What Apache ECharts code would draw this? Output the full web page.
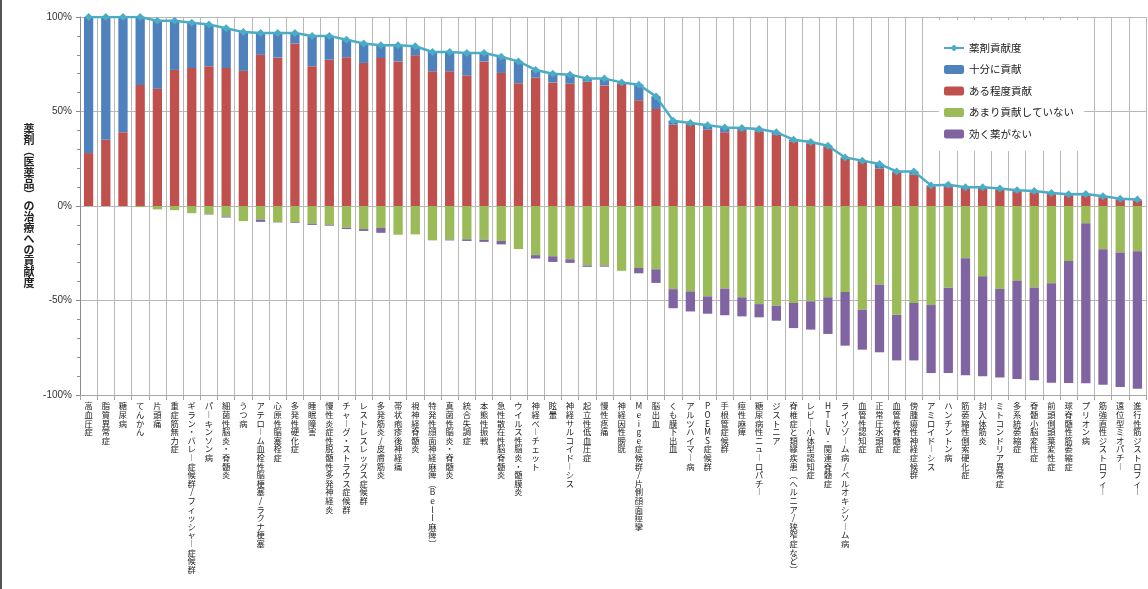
<!DOCTYPE html>
<html>
<head>
<meta charset="utf-8">
<title>薬剤の治療への貢献度</title>
<script src="https://cdn.jsdelivr.net/npm/echarts@6/dist/echarts.min.js"></script>
<style>
  html, body { margin: 0; padding: 0; background: #fff; }
  #chart { width: 1148px; height: 589px; }
</style>
</head>
<body>
<div id="chart"></div>
<script>
const categories = [
  '高血圧症', '脂質異常症', '糖尿病', 'てんかん', '片頭痛', '重症筋無力症',
  'ギラン・バレー症候群/フィッシャー症候群', 'パーキンソン病', '細菌性脳炎・脊髄炎', 'うつ病',
  'アテローム血栓性脳梗塞/ラクナ梗塞', '心原性脳塞栓症', '多発性硬化症', '睡眠障害',
  '慢性炎症性脱髄性多発神経炎', 'チャーグ・ストラウス症候群', 'レストレスレッグス症候群',
  '多発筋炎/皮膚筋炎', '帯状疱疹後神経痛', '視神経脊髄炎', '特発性顔面神経麻痺(Bell麻痺)',
  '真菌性脳炎・脊髄炎', '統合失調症', '本態性振戦', '急性散在性脳脊髄炎', 'ウイルス性脳炎・髄膜炎',
  '神経ベーチェット', '眩暈', '神経サルコイドーシス', '起立性低血圧症', '慢性疼痛', '神経因性膀胱',
  'Meige症候群/片側顔面痙攣', '脳出血', 'くも膜下出血', 'アルツハイマー病', 'POEMS症候群',
  '手根管症候群', '痙性麻痺', '糖尿病性ニューロパチー', 'ジストニア',
  '脊椎症と類縁疾患(ヘルニア/狭窄症など)', 'レビー小体型認知症', 'HTLV-関連脊髄症',
  'ライソゾーム病/ペルオキシソーム病', '血管性認知症', '正常圧水頭症', '血管性脊髄症',
  '傍腫瘍性神経症候群', 'アミロイドーシス', 'ハンチントン病', '筋萎縮性側索硬化症', '封入体筋炎',
  'ミトコンドリア異常症', '多系統萎縮症', '脊髄小脳変性症', '前頭側頭葉変性症', '球脊髄性筋萎縮症',
  'プリオン病', '筋強直性ジストロフィー', '遠位型ミオパチー', '進行性筋ジストロフィー'
]

// 薬剤貢献度 (line)
const contribution = [
  100, 100, 100, 100, 98, 98, 97, 96, 94, 92, 91.5, 91.5, 91.5, 90, 90, 88, 86, 85, 85, 84.5,
  81.5, 81.5, 81, 81, 79, 76.5, 72, 70, 69.5, 67.4, 67.4, 65.4, 64.2, 58, 45.1, 43.9, 42.7, 41.6,
  41.3, 40.7, 39, 35.1, 33.9, 31.9, 25.7, 24, 22.2, 18.3, 18.3, 10.9, 11.3, 9.9, 9.9, 9.2, 8.3,
  7.9, 6.9, 6.2, 6.3, 5.1, 3.9, 3.4
]
// 十分に貢献
const fullyHelps = [
  72, 65, 61, 36, 36, 26, 24, 22, 21, 20.5, 11.5, 13, 5.5, 16, 12.6, 9.3, 10.3, 6.7, 8.5, 4.8,
  10.2, 10.2, 12, 4.5, 8.6, 11.5, 4, 4.6, 4.8, 1.6, 3.6, 0.7, 8.3, 6.7, 2.1, 1, 2.3, 2.6,
  1.6, 1.4, 1.3, 0.9, 0.9, 0.3, 0.8, 0.7, 2.4, 0.8, 1.7, 0.5, 1.3, 0.9, 0.9, 0.6, 0.5,
  0.7, 0.6, 0.7, 0.8, 0.5, 0.5, 0.6
]
// ある程度貢献
const somewhatHelps = [
  28, 35, 39, 64, 62, 72, 73, 74, 73, 71.5, 80, 78.5, 86, 74, 77.4, 78.7, 75.7, 78.3, 76.5, 79.7,
  71.3, 71.3, 69, 76.5, 70.4, 65, 68, 65.4, 64.7, 65.8, 63.8, 64.7, 55.9, 51.3, 43, 42.9, 40.4, 39,
  39.7, 39.3, 37.7, 34.2, 33, 31.6, 24.9, 23.3, 19.8, 17.5, 16.6, 10.4, 10, 9, 9, 8.6, 7.8,
  7.2, 6.3, 5.5, 5.5, 4.6, 3.4, 2.8
]
// あまり貢献していない
const littleHelp = [
  0, 0, 0, -0.6, -1.8, -2.2, -3.8, -4.2, -5.6, -8, -7.2, -8.5, -8.5, -9.3, -10, -11.5, -12.2, -11.6, -15.2, -15,
  -18.2, -17.8, -17.6, -17.8, -18.5, -22.8, -26, -26.6, -28.2, -31.5, -31.5, -34.3, -32.8, -33.5, -44, -45.2, -47.8, -43.7,
  -48.3, -51.9, -52.7, -51.3, -50.4, -48.3, -45.5, -54.9, -41.6, -57.6, -51.3, -52.4, -43.2, -27.7, -37.2, -43.9, -39.6,
  -43.1, -40.9, -29.1, -9.1, -22.9, -24.6, -24
]
// 効く薬がない
const noDrug = [
  0, 0, 0, 0, 0, 0, 0, -0.3, -0.5, 0, -1.2, -0.2, -0.4, -0.7, -0.4, -0.7, -1, -2.6, 0, 0,
  0, -0.4, -0.9, -1.2, -1.8, 0, -1.8, -3, -1.9, -0.7, -0.6, 0, -2.8, -7.2, -10.1, -10.6, -9.2, -14.1,
  -10.1, -7, -8, -13.3, -15, -19.4, -28.4, -21.1, -35.8, -24.1, -30.4, -36, -45.2, -61.9, -52.9, -46.8, -52,
  -49.1, -52.6, -64.6, -84.7, -71.7, -71.2, -72.7
]
const yTicks = [-100, -50, 0, 50, 100]

const jpFont = '"Noto Sans CJK JP", sans-serif'

// stack the characters so the labels read top to bottom like the original
function vertical(text) {
  const map = { 'ー': '︱', '(': '︵', ')': '︶', '（': '︵', '）': '︶' }
  return Array.from(text).map(ch => map[ch] || ch).join('\n')
}

const chart = echarts.init(document.getElementById('chart'))

chart.setOption({
  animation: false,
  backgroundColor: '#fff',
  textStyle: { fontFamily: jpFont },
  grid: { left: 80, right: 2, top: 17, bottom: 194 },
  legend: {
    orient: 'vertical',
    left: 939,
    top: 20,
    padding: [21, 10, 10, 4],
    backgroundColor: '#fff',
    itemWidth: 20,
    itemHeight: 9,
    itemGap: 7.5,
    data: ['薬剤貢献度', '十分に貢献', 'ある程度貢献', 'あまり貢献していない', '効く薬がない'],
    textStyle: { fontSize: 10.5, lineHeight: 14, color: '#222', fontFamily: jpFont }
  },
  xAxis: {
    type: 'category',
    data: categories,
    axisLine: { onZero: false, lineStyle: { color: '#a6a6a6' } },
    axisTick: { show: true, length: 5, lineStyle: { color: '#a6a6a6' } },
    splitLine: { show: true, interval: 0, lineStyle: { color: '#b8b8b8', width: 1 } },
    axisLabel: {
      interval: 0,
      margin: 7,
      fontSize: 8.3,
      lineHeight: 8.6,
      color: '#222',
      fontFamily: jpFont,
      formatter: vertical
    }
  },
  yAxis: {
    type: 'value',
    min: yTicks[0],
    max: yTicks[yTicks.length - 1],
    interval: 50,
    name: vertical('薬剤（医薬品）の治療への貢献度'),
    nameLocation: 'middle',
    nameRotate: 0,
    nameGap: 51,
    nameTextStyle: {
      fontSize: 11,
      lineHeight: 11,
      fontWeight: 'bold',
      color: '#222',
      align: 'center',
      verticalAlign: 'middle',
      fontFamily: jpFont
    },
    axisLine: { show: true, lineStyle: { color: '#8c8c8c' } },
    axisTick: { show: true, length: 4, lineStyle: { color: '#8c8c8c' } },
    minorTick: { show: true, splitNumber: 5, length: 3, lineStyle: { color: '#8c8c8c' } },
    splitLine: { show: true, lineStyle: { color: '#b8b8b8' } },
    axisLabel: {
      formatter: '{value}%',
      fontSize: 10,
      margin: 8,
      color: '#333',
      fontFamily: '"Liberation Sans", Arial, sans-serif'
    }
  },
  series: [
    {
      name: 'ある程度貢献',
      type: 'bar',
      stack: 'total',
      barWidth: '54%',
      itemStyle: { color: '#c0504d' },
      data: somewhatHelps
    },
    {
      name: '十分に貢献',
      type: 'bar',
      stack: 'total',
      barWidth: '54%',
      itemStyle: { color: '#4f81bd' },
      data: fullyHelps
    },
    {
      name: 'あまり貢献していない',
      type: 'bar',
      stack: 'total',
      barWidth: '54%',
      itemStyle: { color: '#9bbb59' },
      data: littleHelp
    },
    {
      name: '効く薬がない',
      type: 'bar',
      stack: 'total',
      barWidth: '54%',
      itemStyle: { color: '#8064a2' },
      data: noDrug
    },
    {
      name: '薬剤貢献度',
      type: 'line',
      z: 10,
      symbol: 'diamond',
      symbolSize: 8,
      itemStyle: { color: '#4bacc6' },
      lineStyle: { color: '#4bacc6', width: 2.5 },
      data: contribution
    }
  ],
  graphic: [
    {
      type: 'rect',
      shape: { x: 0, y: 0, width: 2, height: 589 },
      style: { fill: '#555' },
      silent: true
    }
  ]
})
</script>
</body>
</html>
